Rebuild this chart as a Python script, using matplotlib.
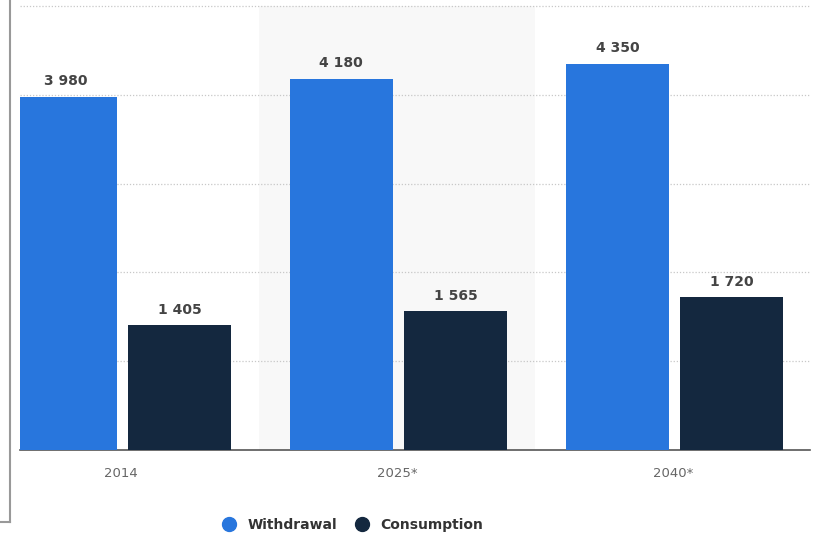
import matplotlib.pyplot as plt
from matplotlib.lines import Line2D
import numpy as np

years = ['2014', '2025*', '2040*']
withdrawal = [3980, 4180, 4350]
consumption = [1405, 1565, 1720]
series_names = ['Withdrawal', 'Consumption']
colors = ['#2876dd', '#14283f']

W, H = 817, 536
fig = plt.figure(figsize=(W / 100, H / 100), dpi=100)
ax = fig.add_axes([20 / W, 1 - 450 / H, 790 / W, 450 / H])

x = np.arange(len(years))
bw = 0.375
off_w = 0.202
off_c = 0.212

# shaded band behind the middle group
ax.axvspan(0.5, 1.5, ymin=0, ymax=5000 / 5067, color='#f8f8f8', zorder=0, lw=0)

b1 = ax.bar(x - off_w, withdrawal, width=bw, color=colors[0], zorder=3)
b2 = ax.bar(x + off_c, consumption, width=bw, color=colors[1], zorder=3)

for bars, vals in [(b1, withdrawal), (b2, consumption)]:
    for rect, v in zip(bars, vals):
        ax.annotate(f"{v:,}".replace(',', ' '),
                    (rect.get_x() + rect.get_width() / 2, v),
                    xytext=(0, 6), textcoords='offset points',
                    ha='center', va='bottom', fontsize=10,
                    fontweight='bold', color='#444444')

ax.set_xlim(-0.366, 2.496)
ax.set_ylim(0, 5067)
ax.set_yticks([1000, 2000, 3000, 4000, 5000])
ax.yaxis.grid(True, linestyle=(0, (1, 1.5)), color='#c8c8c8', linewidth=0.9)
ax.set_axisbelow(True)
ax.tick_params(axis='y', left=False, labelleft=False)
ax.set_xticks(x)
ax.set_xticklabels(years, fontsize=9.5, color='#666666')
ax.tick_params(axis='x', length=0, pad=12)
for s in ['top', 'right', 'left']:
    ax.spines[s].set_visible(False)
ax.spines['bottom'].set_color('#555555')
ax.spines['bottom'].set_linewidth(1.2)

handles = [Line2D([], [], marker='o', linestyle='none', markersize=10,
                  color=c) for c in colors]
leg = fig.legend(handles, series_names, loc='center',
                 bbox_to_anchor=(349 / W, 1 - 525 / H), ncol=2,
                 frameon=False, handletextpad=0.3, columnspacing=0.8,
                 prop={'weight': 'bold', 'size': 10})
for t in leg.get_texts():
    t.set_color('#333333')

# frame line remnants on the left edge
fig.add_artist(Line2D([9.5 / W, 9.5 / W], [1, 1 - 522 / H],
                      color='#999999', lw=1.5, transform=fig.transFigure))
fig.add_artist(Line2D([0, 9.5 / W], [1 - 522 / H, 1 - 522 / H],
                      color='#999999', lw=1.5, transform=fig.transFigure))

fig.savefig('out.png', dpi=100)
